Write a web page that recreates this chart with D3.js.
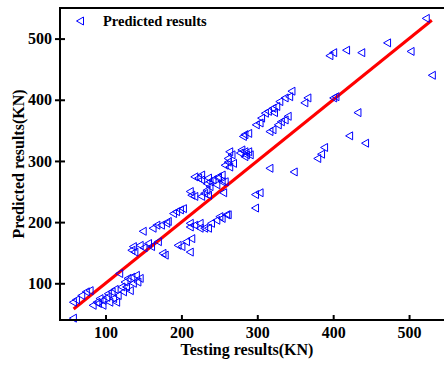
<!DOCTYPE html>
<meta charset="utf-8">
<head>
	<title>Predicted vs testing results</title>
	<script src="https://cdnjs.cloudflare.com/ajax/libs/d3/7.8.5/d3.min.js"></script>
</head>
<style type="text/css">
	body { margin: 0; background: #fff; }
	text { font-family: "Liberation Serif", "Times New Roman", serif; font-weight: bold; }
</style>
<body>
<div id="chart"></div>
<script>
	// testing results (KN) and the predicted value for each specimen
	var testing = [
		57, 57, 61, 68, 74, 79, 83, 88, 90, 92, 96, 96, 101, 103, 105, 108, 110, 112, 114, 116,
		118, 121, 123, 125, 127, 129, 132, 134, 136, 140, 142, 145,
		134, 136, 138, 145, 150, 156, 160, 169, 175, 178, 149, 162, 167, 173, 180, 182,
		189, 193, 198, 202, 211, 213, 217, 230, 235, 217, 226, 233, 237, 241, 248, 253,
		246, 237, 226, 222, 235, 248, 253, 257, 233, 226,
		211, 217, 224, 230, 239, 246, 253, 195, 200, 206, 213, 211, 211, 261, 250, 235, 224,
		263, 266, 261, 279, 283, 285, 277, 283, 290, 288, 257, 261, 263, 268, 283, 288, 281,
		345, 342, 336, 329, 325, 320, 314, 310, 305, 303, 298, 366, 362, 340, 336, 331, 327,
		320, 316, 322,
		255, 297, 303, 259, 297, 316, 348, 379, 384, 388, 421, 442, 432, 400, 403, 395, 400,
		417, 437, 471, 502, 530, 522
	];
	var predicted = [
		43, 69, 73, 80, 86, 88, 64, 69, 67, 75, 72, 64, 77, 83, 69, 86, 75, 90, 69, 80,
		116, 94, 86, 102, 94, 108, 88, 110, 100, 113, 102, 108,
		154, 160, 151, 162, 158, 165, 160, 168, 149, 146, 185, 190, 195, 195, 198, 201,
		214, 217, 220, 222, 250, 244, 242, 247, 244, 274, 269, 263, 266, 269, 272, 266,
		261, 258, 277, 272, 272, 274, 277, 266, 252, 242,
		198, 195, 198, 190, 198, 203, 206, 162, 160, 168, 173, 151, 192, 212, 209, 190, 190,
		315, 310, 304, 318, 315, 310, 313, 307, 310, 315, 293, 298, 290, 296, 343, 345, 340,
		414, 405, 403, 397, 389, 386, 381, 378, 370, 362, 359, 403, 395, 373, 367, 364, 359,
		351, 348, 379,
		248, 245, 248, 212, 223, 288, 282, 304, 311, 322, 341, 329, 379, 403, 405, 472, 477,
		481, 477, 493, 479, 440, 533
	];
	var fitLine = [58, 530];           // y = x reference line
	var tickValues = [100, 200, 300, 400, 500];

	var data = testing.map(function(t, i) { return {x: t, y: predicted[i]}; });

	var svg = d3.select("#chart").append("svg")
		.attr("width", 444)
		.attr("height", 365);

	var xScale = d3.scaleLinear().domain([40, 550]).range([60, 447]);
	var yScale = d3.scaleLinear().domain([40, 550]).range([320, 8]);

	// red line
	svg.append("line")
		.attr("x1", xScale(fitLine[0])).attr("y1", yScale(fitLine[0]))
		.attr("x2", xScale(fitLine[1])).attr("y2", yScale(fitLine[1]))
		.attr("stroke", "#ff0000")
		.attr("stroke-width", 3);

	// left pointing triangles
	var tri = "M-3.5,0L3.5,-4L3.5,4Z";
	svg.selectAll(".pt")
		.data(data)
	 .enter().append("path")
		.attr("class", "pt")
		.attr("d", tri)
		.attr("transform", function(d) { return "translate(" + xScale(d.x) + "," + yScale(d.y) + ")"; })
		.attr("fill", "none")
		.attr("stroke", "#0000ff")
		.attr("stroke-width", 1);

	// frame
	svg.append("rect")
		.attr("x", 60).attr("y", 8)
		.attr("width", 387).attr("height", 312)
		.attr("fill", "none")
		.attr("stroke", "#000")
		.attr("stroke-width", 2);

	// axes
	var xAxis = svg.append("g")
		.attr("transform", "translate(0,320)")
		.call(d3.axisBottom(xScale).tickValues(tickValues).tickSize(-5).tickSizeOuter(0).tickPadding(7));
	var yAxis = svg.append("g")
		.attr("transform", "translate(60,0)")
		.call(d3.axisLeft(yScale).tickValues(tickValues).tickSize(5).tickSizeOuter(0).tickPadding(3));

	[xAxis, yAxis].forEach(function(ax) {
		ax.select(".domain").remove();
		ax.selectAll("line").attr("stroke", "#000").attr("stroke-width", 2);
		ax.selectAll("text")
			.style("font-family", "'Liberation Serif', serif")
			.style("font-weight", "bold")
			.style("font-size", "16px")
			.attr("fill", "#000");
	});
	// y ticks cross the axis
	yAxis.selectAll(".tick line").attr("x1", 5).attr("x2", -5);

	// axis titles
	svg.append("text")
		.attr("x", 247).attr("y", 355)
		.attr("text-anchor", "middle")
		.style("font-size", "16px")
		.text("Testing results(KN)");

	svg.append("text")
		.attr("transform", "translate(24,164) rotate(-90)")
		.attr("text-anchor", "middle")
		.style("font-size", "16px")
		.text("Predicted results(KN)");

	// legend
	svg.append("path")
		.attr("d", tri)
		.attr("transform", "translate(80,21)")
		.attr("fill", "none")
		.attr("stroke", "#0000ff")
		.attr("stroke-width", 1);
	svg.append("text")
		.attr("x", 103).attr("y", 26)
		.style("font-size", "14.5px")
		.text("Predicted results");
</script>
</body>
